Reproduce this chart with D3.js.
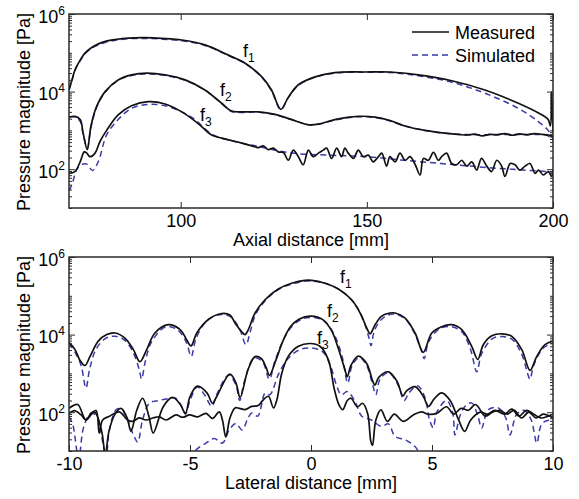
<!DOCTYPE html>
<html>
<head>
<meta charset="utf-8">
<script src="https://cdn.jsdelivr.net/npm/d3@7"></script>
<style>
  html, body { margin: 0; padding: 0; background: #fff; }
  svg { display: block; font-family: "Liberation Sans", Arial, Helvetica, sans-serif; }
</style>
</head>
<body>
<svg id="chart" width="579" height="499"></svg>
<script>
// ---------- Axial scan: [distance mm, pressure Pa] ----------
const axialF1Meas = [[70,1.1e4],[70.8,2.0e4],[71.6,3.6e4],[72.8,6.0e4],[74.3,9.8e4],[76,1.35e5],[77.9,1.7e5],[80,2.0e5],[82.4,2.2e5],[86,2.4e5],[90.4,2.45e5],[95,2.35e5],[100.3,2.14e5],[106.5,1.6e5],[112.8,8.7e4],[117.3,5.4e4],[121.8,2.4e4],[124.4,1.1e4],[126.9,3.5e3],[128.9,7.1e3],[131.6,1.5e4],[136.1,2.4e4],[141.4,3.1e4],[149.5,3.2e4],[156.2,3.2e4],[163.8,2.7e4],[172.8,1.9e4],[181.7,1.1e4],[190.7,5.0e3],[196.1,2.8e3],[198.7,1.9e3],[199.3,1.3e3],[199.6,1.0e4],[200,9.0e2]];
const axialF1Sim  = [[70,1.1e4],[70.8,1.95e4],[71.6,3.5e4],[72.8,5.8e4],[74.3,9.5e4],[76,1.3e5],[77.9,1.6e5],[80,1.9e5],[82.4,2.1e5],[86,2.3e5],[90.4,2.35e5],[95,2.25e5],[100.3,2.05e5],[106.5,1.55e5],[112.8,8.5e4],[117.3,5.3e4],[121.8,2.35e4],[124.4,1.05e4],[126.9,3.4e3],[128.9,7.0e3],[131.6,1.45e4],[136.1,2.35e4],[141.4,3.0e4],[149.5,3.15e4],[156.2,3.1e4],[163.8,2.55e4],[172.8,1.75e4],[181.7,9.1e3],[190.7,3.7e3],[196,1.7e3],[198.7,1.0e3],[200,6.0e2]];
const axialF2Meas = [[70,2.2e3],[71.6,2.3e3],[73,1.9e3],[73.8,8.5e2],[74.9,3.2e2],[75.9,1.3e3],[77.4,4.1e3],[79.7,1.0e4],[83.2,2.0e4],[86.8,2.7e4],[90.9,3.0e4],[95.8,2.7e4],[101.2,2.0e4],[106.5,1.1e4],[111,5.0e3],[113.5,3.2e3],[116,3.0e3],[120.8,3.0e3],[125.3,2.6e3],[129.8,1.9e3],[134.3,1.4e3],[137,1.45e3],[141.4,1.9e3],[147.7,2.3e3],[152.2,2.2e3],[156.2,1.8e3],[160.2,1.3e3],[165.6,1.0e3],[171,8.5e2],[175,7.8e2],[177,7.6e2],[179,8.0e2],[181,7.2e2],[183,7.9e2],[185,7.7e2],[187,8.3e2],[189,7.5e2],[191,8.1e2],[193,7.7e2],[195,8.3e2],[197,7.9e2],[199,7.5e2],[200,7.0e2]];
const axialF2Sim  = [[70,2.2e3],[71.6,2.2e3],[73,1.7e3],[73.8,8.0e2],[74.9,3.5e2],[75.9,1.2e3],[77.4,3.9e3],[79.7,9.6e3],[83.2,1.95e4],[86.8,2.6e4],[90.9,2.85e4],[95.8,2.6e4],[101.2,1.95e4],[106.5,1.1e4],[111,4.9e3],[113.5,3.1e3],[116,2.9e3],[120.8,2.95e3],[125.3,2.55e3],[129.8,1.9e3],[134.3,1.4e3],[137,1.45e3],[141.4,1.85e3],[147.7,2.25e3],[152.2,2.15e3],[156.2,1.75e3],[160.2,1.3e3],[165.6,1.0e3],[171,8.4e2],[177,7.8e2],[185,7.8e2],[193,7.8e2],[198.5,7.4e2],[200,5.5e2]];
const axialF3Meas = [[70,78],[71.6,87],[73,155],[74.1,280],[74.8,260],[75.6,210],[77,260],[78.3,510],[80.1,1.0e3],[83.2,2.5e3],[86.8,4.3e3],[91.3,5.5e3],[95.8,4.8e3],[100.3,3.0e3],[104.7,1.5e3],[108.3,7.6e2],[111,6.3e2],[113.2,5.6e2],[116.4,4.7e2],[119.96,3.8e2],[120.85,360],[122.2,400],[123.5,320],[124.9,350],[126.2,280],[127.6,270],[128.9,170],[130.25,310],[131.6,210],[132.9,130],[134.3,310],[135.6,210],[137,260],[138.3,310],[139.2,350],[140.55,190],[141.9,350],[143.2,210],[144.1,350],[145,260],[146.4,190],[147.7,310],[149.05,210],[150.4,230],[151.7,155],[153.1,210],[154,260],[155.3,120],[156.2,210],[157.6,155],[158.9,260],[160.3,170],[161.6,210],[163,130],[164.3,71],[165.2,190],[166.5,170],[167.9,270],[169.2,170],[170.1,210],[171.4,260],[172.8,140],[174.1,130],[175.5,170],[176.8,120],[178.2,155],[179.5,95],[180.8,190],[182.2,120],[183.5,87],[184.9,170],[186.2,120],[187.1,65],[188.5,140],[189.8,130],[191.1,95],[192.5,120],[193.8,140],[195.2,78],[196.1,95],[197.4,71],[198.75,87],[199.6,65],[200,100]];
const axialF3Sim  = [[70,28],[70.8,40],[72,95],[73.2,130],[74.8,135],[76.3,92],[77.9,160],[80.1,760],[83.2,1.9e3],[86.8,3.7e3],[91.3,4.7e3],[95.8,4.3e3],[100.3,3.0e3],[103.8,1.9e3],[108.3,8.0e2],[113,5.6e2],[120,4.0e2],[130,2.6e2],[140,2.3e2],[150,2.1e2],[160,1.7e2],[170,1.4e2],[180,1.15e2],[190,98],[200,85]];

// ---------- Lateral scan: [distance mm, pressure Pa] ----------
const latF1Meas = [[-10,6.3e3],[-9.75,4.1e3],[-9.55,2.2e3],[-9.34,1.6e3],[-9.13,2.75e3],[-8.79,6.8e3],[-8.44,1.0e4],[-8.1,1.1e4],[-7.69,8.1e3],[-7.34,4.1e3],[-7.07,2.0e3],[-6.79,4.1e3],[-6.45,1.1e4],[-5.9,1.8e4],[-5.41,1.35e4],[-5.14,7.4e3],[-4.96,5.1e3],[-4.72,1.1e4],[-4.24,2.45e4],[-3.69,3.5e4],[-3.35,3.2e4],[-3.14,2.0e4],[-2.87,1.2e4],[-2.73,1.0e4],[-2.59,1.35e4],[-2.31,3.6e4],[-1.9,7.9e4],[-1.35,1.5e5],[-0.8,2.1e5],[-0.25,2.5e5],[0.03,2.5e5],[0.58,2.1e5],[1.13,1.5e5],[1.68,7.9e4],[2.03,3.6e4],[2.3,1.5e4],[2.44,1.05e4],[2.65,1.8e4],[2.92,3.0e4],[3.26,3.6e4],[3.47,3.6e4],[3.88,2.7e4],[4.3,1.1e4],[4.64,3.5e3],[4.99,1.1e4],[5.4,1.6e4],[5.81,1.8e4],[6.23,1.35e4],[6.64,5.0e3],[6.89,2.3e3],[7.12,5.5e3],[7.47,9.3e3],[7.88,1.05e4],[8.29,9.1e3],[8.71,4.1e3],[9.05,1.2e3],[9.33,2.75e3],[9.67,5.5e3],[10,6.8e3]];
const latF1Sim  = [[-10,6.0e3],[-9.75,3.5e3],[-9.5,1.6e3],[-9.3,4.2e2],[-9.15,1.26e3],[-8.9,4.0e3],[-8.5,7.9e3],[-8.1,9.1e3],[-7.7,7.2e3],[-7.35,3.5e3],[-7.1,1.26e3],[-7.0,7.2e2],[-6.85,2.0e3],[-6.6,6.3e3],[-6.0,1.6e4],[-5.5,1.3e4],[-5.15,6.3e3],[-4.95,2.75e3],[-4.75,7.9e3],[-4.3,2.3e4],[-3.7,3.3e4],[-3.3,2.8e4],[-2.95,1.4e4],[-2.69,5.5e3],[-2.5,1.26e4],[-2.3,3.2e4],[-1.9,7.4e4],[-1.35,1.45e5],[-0.8,2.0e5],[-0.2,2.4e5],[0.3,2.3e5],[0.8,1.9e5],[1.3,1.26e5],[1.8,6.3e4],[2.15,2.5e4],[2.38,8.9e3],[2.48,5.2e3],[2.62,1.26e4],[2.95,2.6e4],[3.4,3.4e4],[3.9,2.5e4],[4.3,1.0e4],[4.55,4.0e3],[4.68,2.4e3],[4.85,6.3e3],[5.3,1.4e4],[5.8,1.6e4],[6.25,1.15e4],[6.6,4.0e3],[6.85,1.1e3],[7.05,3.2e3],[7.5,7.9e3],[7.9,8.9e3],[8.3,7.6e3],[8.7,3.2e3],[8.95,1.0e3],[9.05,7.1e2],[9.2,1.6e3],[9.6,4.5e3],[10,6.0e3]];
const latF2Meas = [[-10,126],[-9.64,158],[-9.3,63],[-8.95,102],[-8.65,32],[-8.5,8],[-8.35,32],[-8.1,89],[-7.85,126],[-7.6,71],[-7.44,32],[-7.2,112],[-6.96,229],[-6.7,79],[-6.52,29],[-6.1,141],[-5.72,240],[-5.4,158],[-5.19,93],[-5.0,251],[-4.7,468],[-4.3,316],[-4.07,170],[-3.9,251],[-3.35,955],[-3.1,562],[-2.93,240],[-2.6,1.26e3],[-2.31,2.7e3],[-2.05,2.4e3],[-1.85,1.4e3],[-1.72,890],[-1.45,2.2e3],[-1.15,7.1e3],[-0.85,1.6e4],[-0.5,2.5e4],[0,3.0e4],[0.5,2.4e4],[0.85,1.26e4],[1.15,4.0e3],[1.4,1.26e3],[1.5,830],[1.65,1.6e3],[1.95,2.8e3],[2.3,1.8e3],[2.55,630],[2.64,500],[2.8,790],[3.2,1.1e3],[3.55,630],[3.8,263],[3.95,355],[4.3,457],[4.65,251],[4.85,141],[5.1,224],[5.4,316],[5.75,200],[6.1,63],[6.35,32],[6.6,63],[7.0,100],[7.3,89],[7.6,112],[8.0,89],[8.3,120],[8.6,79],[8.9,112],[9.2,89],[9.5,71],[9.8,79],[10,89]];
const latF2Sim  = [[-10,76],[-9.85,50],[-9.6,6.3],[-9.4,40],[-9.1,93],[-8.85,79],[-8.6,16],[-8.47,6.3],[-8.33,35],[-8.06,115],[-7.85,126],[-7.58,63],[-7.3,23],[-7.16,17],[-6.96,63],[-6.68,170],[-6.3,200],[-5.9,224],[-5.6,229],[-5.3,126],[-5.19,89],[-5.0,200],[-4.7,447],[-4.4,282],[-4.1,141],[-3.9,282],[-3.4,912],[-3.1,500],[-2.95,200],[-2.75,630],[-2.35,2.5e3],[-2.0,2.0e3],[-1.72,708],[-1.5,2.0e3],[-1.15,7.1e3],[-0.8,1.6e4],[-0.3,2.6e4],[0.2,2.7e4],[0.6,2.1e4],[1.0,8.9e3],[1.3,2.5e3],[1.52,562],[1.7,1.6e3],[2.0,2.6e3],[2.3,1.6e3],[2.55,500],[2.68,282],[2.85,708],[3.2,1.05e3],[3.6,500],[3.85,200],[4.05,316],[4.4,479],[4.7,251],[4.9,63],[5.05,40],[5.2,100],[5.6,200],[5.85,100],[5.95,26],[6.15,79],[6.36,141],[6.64,174],[6.9,79],[7.05,39],[7.33,117],[7.74,129],[8.05,71],[8.22,26],[8.5,89],[8.8,112],[9.1,63],[9.33,16],[9.5,45],[9.67,58],[10,63]];
const latF3Meas = [[-10,93],[-9.78,110],[-9.5,85],[-9.3,63],[-9.09,93],[-8.88,110],[-8.75,29],[-8.61,63],[-8.33,79],[-7.92,102],[-7.58,63],[-7.37,58],[-7.1,71],[-6.82,63],[-6.5,72],[-6.26,76],[-5.99,63],[-5.58,85],[-5.3,74],[-5.02,85],[-4.68,76],[-4.34,93],[-4.07,69],[-3.79,102],[-3.66,63],[-3.52,23],[-3.35,71],[-3.14,129],[-2.96,126],[-2.73,117],[-2.45,141],[-2.18,148],[-1.97,209],[-1.76,257],[-1.55,129],[-1.41,209],[-1.21,1.0e3],[-0.94,2.75e3],[-0.52,5.0e3],[-0.04,5.9e3],[0.37,5.0e3],[0.72,2.2e3],[0.96,400],[1.15,158],[1.31,117],[1.5,200],[1.65,229],[1.92,138],[2.13,170],[2.34,93],[2.47,18],[2.54,14],[2.68,63],[2.89,115],[3.16,58],[3.44,89],[3.81,58],[4.23,85],[4.57,102],[4.82,89],[5.19,93],[5.6,138],[5.9,89],[6.2,126],[6.5,112],[6.8,158],[7.2,79],[7.5,100],[7.8,112],[8.1,89],[8.4,112],[8.7,71],[9.0,100],[9.3,71],[9.6,89],[10,71]];
const latF3Sim  = [[-5.0,6.3],[-4.8,10],[-4.34,16],[-4.0,21],[-3.66,16],[-3.38,35],[-3.1,51],[-2.85,35],[-2.6,71],[-2.45,95],[-2.2,79],[-1.9,309],[-1.7,282],[-1.35,933],[-1.0,2.2e3],[-0.5,4.0e3],[0.03,4.5e3],[0.5,3.5e3],[0.8,1.6e3],[1.05,500],[1.25,282],[1.5,339],[1.8,200],[2.1,79],[2.5,63],[2.9,43],[3.2,50],[3.47,24],[3.88,19.5],[4.3,13],[4.6,7],[4.9,6.3]];

// ---------- Axis ticks and labels ----------
const axialTicks = [100, 150, 200];
const lateralTicks = [-10, -5, 0, 5, 10];
const pressureTicks = [1e2, 1e4, 1e6];
const yTitle = "Pressure magnitude [Pa]";
const legendItems = ["Measured", "Simulated"];

const SOLID = "#111111";
const DASHED = "#3a3aa8";
const FRAME = "#2a2a2a";

const svg = d3.select("#chart");
const plotLeft = 69, plotRight = 553;

function drawPanel(cfg, idx) {
  const x = d3.scaleLinear().domain(cfg.xDomain).range([plotLeft, plotRight]);
  const y = d3.scaleLog().domain([10, 1e6]).range([cfg.bottom, cfg.top]);
  const g = svg.append("g");

  const clipId = "clip" + idx;
  svg.append("clipPath").attr("id", clipId)
    .append("rect")
    .attr("x", plotLeft).attr("y", cfg.top)
    .attr("width", plotRight - plotLeft).attr("height", cfg.bottom - cfg.top);

  const smooth = d3.line().x(d => x(d[0])).y(d => y(d[1])).curve(d3.curveCatmullRom.alpha(0.5));

  const plot = g.append("g").attr("clip-path", `url(#${clipId})`);
  cfg.sim.forEach(s => {
    plot.append("path").datum(s).attr("d", smooth)
      .attr("fill", "none").attr("stroke", DASHED).attr("stroke-width", 1.5)
      .attr("stroke-dasharray", "6,4");
  });
  cfg.meas.forEach(s => {
    plot.append("path").datum(s).attr("d", smooth)
      .attr("fill", "none").attr("stroke", SOLID).attr("stroke-width", 1.7)
      .attr("stroke-linejoin", "round");
  });

  // minor log ticks on left/right
  const minor = y.ticks().filter(v => !pressureTicks.some(p => Math.abs(p - v) < 1e-9 * p));
  const axisColor = g => g.attr("color", FRAME).call(s => s.select(".domain").remove());

  g.append("g").attr("transform", `translate(${plotLeft},0)`)
    .call(d3.axisLeft(y).tickValues(minor).tickSize(-3).tickFormat("")).call(axisColor);
  g.append("g").attr("transform", `translate(${plotRight},0)`)
    .call(d3.axisRight(y).tickValues(minor).tickSize(-3).tickFormat("")).call(axisColor);
  g.append("g").attr("transform", `translate(${plotRight},0)`)
    .call(d3.axisRight(y).tickValues(pressureTicks).tickSize(-6).tickFormat("")).call(axisColor);

  const yMajor = g.append("g").attr("transform", `translate(${plotLeft},0)`)
    .call(d3.axisLeft(y).tickValues(pressureTicks).tickSize(-6).tickPadding(4).tickFormat(""))
    .call(axisColor);
  yMajor.selectAll(".tick text")
    .attr("fill", "#000").attr("font-size", 18).attr("dy", 8)
    .each(function (d) {
      const t = d3.select(this);
      t.append("tspan").text("10");
      t.append("tspan").attr("dy", -8).attr("font-size", 12).text(Math.round(Math.log10(d)));
    });

  const xb = g.append("g").attr("transform", `translate(0,${cfg.bottom})`)
    .call(d3.axisBottom(x).tickValues(cfg.xTicks).tickSize(-6).tickPadding(6).tickFormat(d => String(d)))
    .call(axisColor);
  xb.selectAll(".tick text").attr("fill", "#000").attr("font-size", 18);
  g.append("g").attr("transform", `translate(0,${cfg.top})`)
    .call(d3.axisTop(x).tickValues(cfg.xTicks).tickSize(-6).tickFormat("")).call(axisColor);

  // frame
  g.append("rect").attr("x", plotLeft).attr("y", cfg.top)
    .attr("width", plotRight - plotLeft).attr("height", cfg.bottom - cfg.top)
    .attr("fill", "none").attr("stroke", FRAME).attr("stroke-width", 1.5);

  // axis titles
  g.append("text").attr("x", (plotLeft + plotRight) / 2).attr("y", cfg.bottom + 38)
    .attr("text-anchor", "middle").attr("font-size", 18).attr("fill", "#000").text(cfg.xTitle);
  g.append("text")
    .attr("transform", `translate(30,${(cfg.top + cfg.bottom) / 2 + 1}) rotate(-90)`)
    .attr("text-anchor", "middle").attr("font-size", 18).attr("fill", "#000").text(yTitle);

  // curve labels f1, f2, f3
  cfg.labels.forEach((p, i) => {
    const t = g.append("text").attr("x", p[0]).attr("y", p[1]).attr("font-size", 18).attr("fill", "#000");
    t.append("tspan").text("f");
    t.append("tspan").attr("dy", 5).attr("font-size", 12).text(String(i + 1));
  });
}

const panels = [
  {
    top: 14, bottom: 208, xDomain: [70, 200], xTicks: axialTicks, xTitle: "Axial distance [mm]",
    meas: [axialF1Meas, axialF2Meas, axialF3Meas], sim: [axialF1Sim, axialF2Sim, axialF3Sim],
    labels: [[243, 57], [220, 96], [200, 121]]
  },
  {
    top: 257, bottom: 451, xDomain: [-10, 10], xTicks: lateralTicks, xTitle: "Lateral distance [mm]",
    meas: [latF1Meas, latF2Meas, latF3Meas], sim: [latF1Sim, latF2Sim, latF3Sim],
    labels: [[340, 283], [327, 317], [317, 344]]
  }
];
panels.forEach(drawPanel);

// legend (top panel)
const legend = svg.append("g");
legendItems.forEach((name, i) => {
  const ly = 32 + i * 23;
  legend.append("line").attr("x1", 412).attr("x2", 449).attr("y1", ly).attr("y2", ly)
    .attr("stroke", i === 0 ? SOLID : DASHED)
    .attr("stroke-width", i === 0 ? 1.7 : 1.5)
    .attr("stroke-dasharray", i === 0 ? null : "6,4");
  legend.append("text").attr("x", 455).attr("y", ly + 6.5)
    .attr("font-size", 18).attr("fill", "#000").text(name);
});
</script>
</body>
</html>
